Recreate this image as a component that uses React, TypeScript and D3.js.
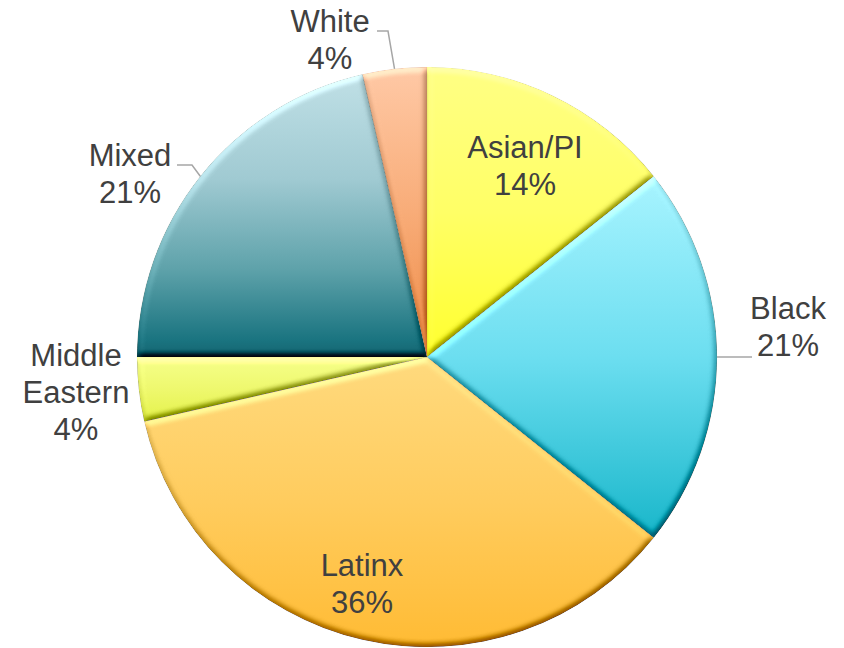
import React from "react";
import * as d3 from "d3";

// head counts per group, clockwise from 12 o'clock
const categories = ["Asian/PI", "Black", "Latinx", "Middle Eastern", "Mixed", "White"];
const counts = [4, 6, 10, 1, 6, 1];
const labelLines = [["Asian/PI"], ["Black"], ["Latinx"], ["Middle", "Eastern"], ["Mixed"], ["White"]];

// gradient stops [offset, colour] per slice, top to bottom
const gradStops: [number, string][][] = [
  [[0, "#FFFF84"], [0.5, "#FFFF66"], [1, "#FFFF2E"]],
  [[0, "#A8F4FF"], [0.5, "#6CDEF0"], [1, "#18B6CA"]],
  [[0, "#FFDA7E"], [0.5, "#FFCC5E"], [1, "#FFBB34"]],
  [[0, "#F6FF8A"], [0.5, "#EEF86E"], [1, "#E4F24A"]],
  [[0, "#C0E0E6"], [0.37, "#A0CAD2"], [0.69, "#5EA2AA"], [0.94, "#1A7480"], [1, "#156470"]],
  [[0, "#FFC9A6"], [0.5, "#F8AC78"], [1, "#EE8A44"]],
];

// label anchor (center x, first baseline) and leader elbow, null = no leader
const labelPos: [number, number][] = [[525, 158], [788, 319], [362, 576], [76, 366], [130, 166], [330, 32]];
const leaderStart: ([number, number][] | null)[] = [
  null,
  [[752, 357]],
  null,
  null,
  [[177, 165], [192, 165]],
  [[377, 31], [388, 31]],
];

const W = 844;
const H = 648;
const cx = 427;
const cy = 357;
const R = 290;
const fontSize = 31;
const lineH = 37;

export default function App() {
  const total = d3.sum(counts);
  const pie = d3.pie<number>().sort(null).value((d) => d).startAngle(0).endAngle(2 * Math.PI);
  const arcs = pie(counts);
  const arc = d3.arc<d3.PieArcDatum<number>>().innerRadius(0).outerRadius(R);
  const rim = d3.arc<d3.PieArcDatum<number>>().innerRadius(R).outerRadius(R);
  const pct = d3.format(".0%");

  return (
    <svg width={W} height={H} style={{ position: "absolute", left: 0, top: 0 }}>
      <defs>
        {arcs.map((a, i) => (
          <linearGradient key={i} id={"g" + i} x1="0" y1="0" x2="0" y2="1">
            {gradStops[i].map(([o, c], j) => (
              <stop key={j} offset={o} stopColor={c} />
            ))}
          </linearGradient>
        ))}
        <filter id="bevel" x="-5%" y="-5%" width="110%" height="110%" colorInterpolationFilters="sRGB">
          <feGaussianBlur in="SourceAlpha" stdDeviation="3" result="blur" />
          <feDiffuseLighting in="blur" surfaceScale="3" diffuseConstant="1" lightingColor="#ffffff" result="light">
            <feDistantLight azimuth="250" elevation="55" />
          </feDiffuseLighting>
          <feComposite in="SourceGraphic" in2="light" operator="arithmetic" k1="0" k2="1" k3="0.8" k4="-0.655" result="lit" />
          <feComposite in="lit" in2="SourceAlpha" operator="in" />
        </filter>
      </defs>
      <g transform={`translate(${cx},${cy})`}>
        {arcs.map((a, i) => (
          <path key={i} d={arc(a) || ""} fill={`url(#g${i})`} filter="url(#bevel)"
            stroke="rgba(90,70,20,0.2)" strokeWidth={0.5} />
        ))}
      </g>
      {arcs.map((a, i) => {
        const pts = leaderStart[i];
        if (!pts) return null;
        const [ex, ey] = rim.centroid(a);
        const all = [...pts, [cx + ex, cy + ey] as [number, number]];
        return (
          <path key={"l" + i} d={d3.line()(all) || ""} fill="none" stroke="#A6A6A6" strokeWidth={1.5} />
        );
      })}
      {arcs.map((a, i) => {
        const lines = [...labelLines[i], pct(counts[i] / total)];
        const [lx, ly] = labelPos[i];
        return (
          <text key={"t" + i} x={lx} y={ly} textAnchor="middle" fontFamily="Liberation Sans, Arial, sans-serif"
            fontSize={fontSize} fill="#404040">
            {lines.map((s, j) => (
              <tspan key={j} x={lx} y={ly + j * lineH}>{s}</tspan>
            ))}
          </text>
        );
      })}
    </svg>
  );
}
